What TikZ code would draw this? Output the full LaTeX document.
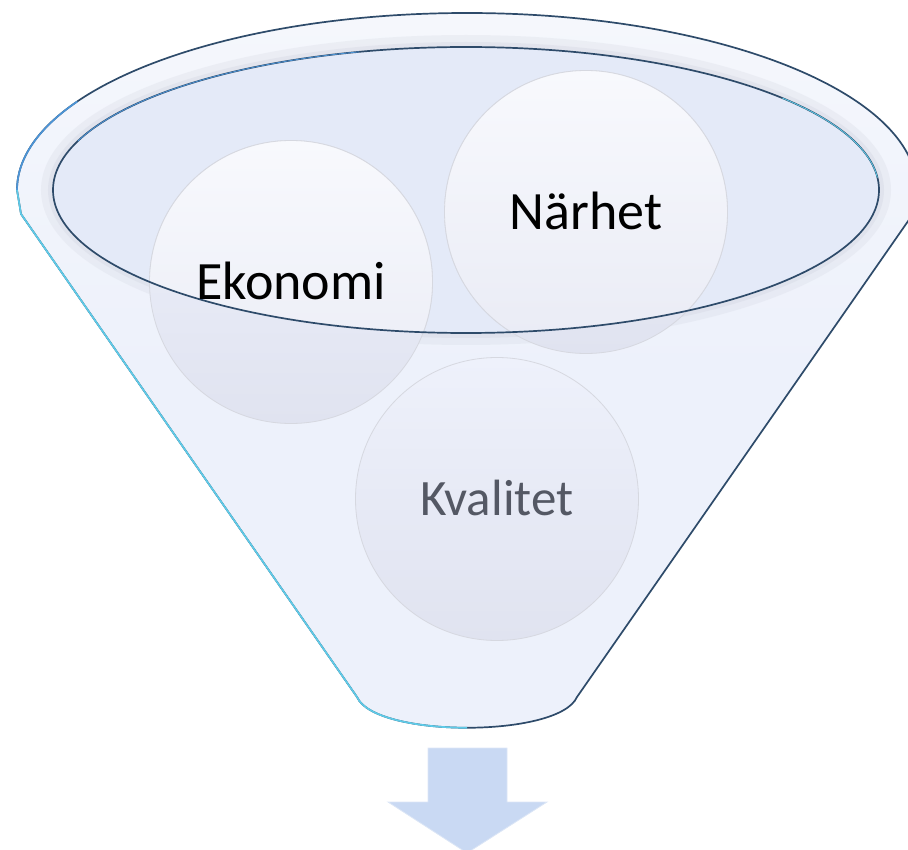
\documentclass[tikz,border=0pt]{standalone}
\usepackage{fontspec}
\setmainfont{Carlito}
\definecolor{bodyfill}{HTML}{EDF1FB}
\definecolor{rimfill}{HTML}{F5F7FC}
\definecolor{rimgray}{HTML}{D2D5E0}
\definecolor{ellfill}{HTML}{E4EAF8}
\definecolor{edgedark}{HTML}{2E4B6A}
\definecolor{edgecyan}{HTML}{5ECBE8}
\definecolor{edgeblue}{HTML}{4C94D6}
\definecolor{circedge}{HTML}{D6D8E0}
\definecolor{arrowfill}{HTML}{C9D9F3}
\definecolor{arrowedge}{HTML}{DCE6F6}
\definecolor{kvtext}{HTML}{545864}
\definecolor{ctop}{HTML}{EEF1FB}
\definecolor{cmid}{HTML}{EBEEFA}
\definecolor{cbot}{HTML}{E0E3F0}
\definecolor{ltop}{HTML}{F8F9FD}
\definecolor{lmid}{HTML}{F5F6FC}
\definecolor{lbot}{HTML}{E9EBF5}
\tikzset{
  bubble/.style={circle, minimum size=283pt, inner sep=0pt, draw=circedge, line width=0.8pt,
    top color=ctop, middle color=cmid, bottom color=cbot},
  bubblelight/.style={circle, minimum size=283pt, inner sep=0pt, draw=circedge, line width=0.8pt,
    top color=ltop, middle color=lmid, bottom color=lbot},
  label/.style={anchor=base, inner sep=0pt, font=\fontsize{54}{60}\selectfont},
}
\begin{document}
\begin{tikzpicture}[x=1pt,y=-1pt]
\useasboundingbox (0,0) rectangle (908,850);
% funnel body
\path[top color=rimfill, bottom color=bodyfill, middle color=bodyfill] (17,190) arc[start angle=180,end angle=360,x radius=450,y radius=177]
  -- (913,214) -- (577,697) .. controls (559,738) and (375,738) .. (357,697) -- (21,214) -- cycle;
% soft shadow around inner ellipse
\begin{scope}
  \clip (17,190) arc[start angle=180,end angle=360,x radius=450,y radius=177]
    -- (913,214) -- (577,697) .. controls (559,738) and (375,738) .. (357,697) -- (21,214) -- cycle;
  \draw[rimgray, line width=12pt, opacity=0.25] (466,190) ellipse[x radius=419, y radius=149];
  \draw[rimgray, line width=5pt, opacity=0.35] (466,190) ellipse[x radius=415.5, y radius=145.5];
\end{scope}
% inner ellipse fill
\fill[ellfill] (466,190) ellipse[x radius=413, y radius=143];
% circles
\node[bubble] (eko) at (291,282) {};
\node[bubble] (nar) at (586,212) {};
\node[bubble] (kva) at (497,499) {};
\begin{scope}
  \clip (466,190) ellipse[x radius=413, y radius=143];
  \node[bubblelight] at (eko.center) {};
  \node[bubblelight] at (nar.center) {};
\end{scope}
% inner ellipse outline
\draw[edgedark, line width=1.7pt] (466,190) ellipse[x radius=413, y radius=143];
\draw[edgeblue, line width=0.8pt] (466,190) ++(200:413 and 143) arc[start angle=200,end angle=255,x radius=413,y radius=143];
\draw[edgecyan, line width=0.8pt] (466,190) ++(320:413 and 143) arc[start angle=320,end angle=355,x radius=413,y radius=143];
% funnel outline
\draw[edgedark, line width=1.7pt] (17,190) arc[start angle=180,end angle=360,x radius=450,y radius=177]
  -- (913,214) -- (577,697) .. controls (559,738) and (375,738) .. (357,697) -- (21,214) -- cycle;
\draw[edgeblue, line width=1.7pt] (17,190) arc[start angle=180,end angle=210,x radius=450,y radius=177];
\draw[edgecyan, line width=1.7pt] (17,190) -- (21,214) -- (357,697) .. controls (366,717.5) and (416.5,727.75) .. (467,727.75);
% labels
\node[label] (teko) at (291,300) {Ekonomi};
\node[label] (tnar) at (586,230) {Närhet};
\node[label, text=kvtext, font=\fontsize{51}{58}\selectfont] (tkva) at (497,515) {Kvalitet};
% down arrow
\path[fill=arrowfill, draw=arrowedge, line width=0.8pt] (428,748) -- (507,748) -- (507,802) -- (547,802)
  -- (467,853) -- (388,802) -- (428,802) -- cycle;
\end{tikzpicture}
\end{document}
